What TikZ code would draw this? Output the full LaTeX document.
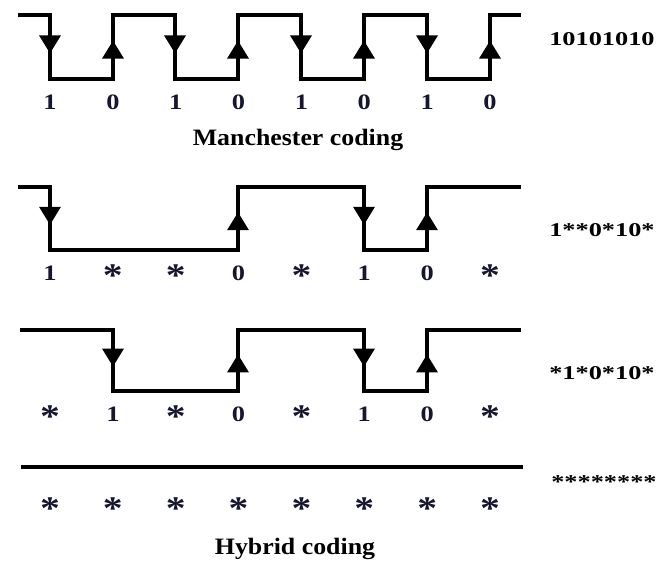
\documentclass[tikz,border=0pt]{standalone}
\usepackage{fontspec}
\setmainfont{Liberation Serif}
\usetikzlibrary{arrows.meta,decorations.markings}

\definecolor{bitink}{RGB}{22,22,48}
\newcommand{\bitstar}{\raisebox{-0.3em}{\scalebox{1.5}{*}}}

\begin{document}
\begin{tikzpicture}[x=1pt, y=-1pt]
\useasboundingbox (0,0) rectangle (668,575);

\tikzset{EdgeStyle/.style = {line width=3.4pt, line join=miter} }
\tikzset{FlankStyle/.style = {EdgeStyle, postaction={decorate},
 decoration={markings, mark=at position 0.6 with {\arrow{Triangle[width=21pt,length=18pt]}}}} }

% Manchester signal 10101010
\draw[EdgeStyle] (18,15) -| (50,79) -| (113,15) -| (175,79) -| (238,15) -| (301,79)
  -| (364,15) -| (427,79) -| (490,15) -- (521,15);
\foreach \x in {50,175,301,427} \draw[FlankStyle] (\x,15) -- (\x,79);
\foreach \x in {113,238,364,490} \draw[FlankStyle] (\x,79) -- (\x,15);

% hybrid signal 1**0*10*
\draw[EdgeStyle] (18,187) -| (50,250) -| (238,187) -| (364,250) -| (427,187) -- (521,187);
\foreach \x in {50,364} \draw[FlankStyle] (\x,187) -- (\x,250);
\foreach \x in {238,427} \draw[FlankStyle] (\x,250) -- (\x,187);

% hybrid signal *1*0*10*
\draw[EdgeStyle] (20,330) -| (113,391) -| (238,330) -| (364,391) -| (427,330) -- (521,330);
\foreach \x in {113,364} \draw[FlankStyle] (\x,330) -- (\x,391);
\foreach \x in {238,427} \draw[FlankStyle] (\x,391) -- (\x,330);

% all-star signal
\draw[EdgeStyle] (21,467) -- (523,467);


\tikzset{BitStyle/.style = {
 anchor = base,
 inner sep = 0pt,
 text = bitink,
 font = \fontsize{22}{26}\selectfont\bfseries,
 xscale = 1.2} }
\tikzset{CodeStyle/.style = {
 anchor = base west,
 inner sep = 0pt,
 font = \fontsize{19.5}{23}\selectfont\bfseries,
 xscale = 1.35} }
\tikzset{TitleStyle/.style = {
 inner sep = 0pt,
 font = \fontsize{23.5}{28}\selectfont\bfseries,
 xscale = 1.1} }

\foreach \b [count=\i] in {1,0,1,0,1,0,1,0}
  \node[BitStyle] (B1_\i) at ({50+(\i-1)*62.86}, 110) {\b};
\foreach \b [count=\i] in {1,\bitstar,\bitstar,0,\bitstar,1,0,\bitstar}
  \node[BitStyle] (B2_\i) at ({50+(\i-1)*62.86}, 280) {\b};
\foreach \b [count=\i] in {\bitstar,1,\bitstar,0,\bitstar,1,0,\bitstar}
  \node[BitStyle] (B3_\i) at ({50+(\i-1)*62.86}, 421) {\b};
\foreach \i in {1,...,8}
  \node[BitStyle] (B4_\i) at ({50+(\i-1)*62.86}, 513) {\bitstar};

\node[CodeStyle] (C1) at (549,46) {10101010};
\node[CodeStyle] (C2) at (549,236) {1**0*10*};
\node[CodeStyle] (C3) at (549,379) {*1*0*10*};
\node[CodeStyle] (C4) at (551,488) {********};

\node[TitleStyle] (T1) at (298,140) {Manchester coding};
\node[TitleStyle] (T2) at (295,549) {Hybrid coding};

\end{tikzpicture}
\end{document}
